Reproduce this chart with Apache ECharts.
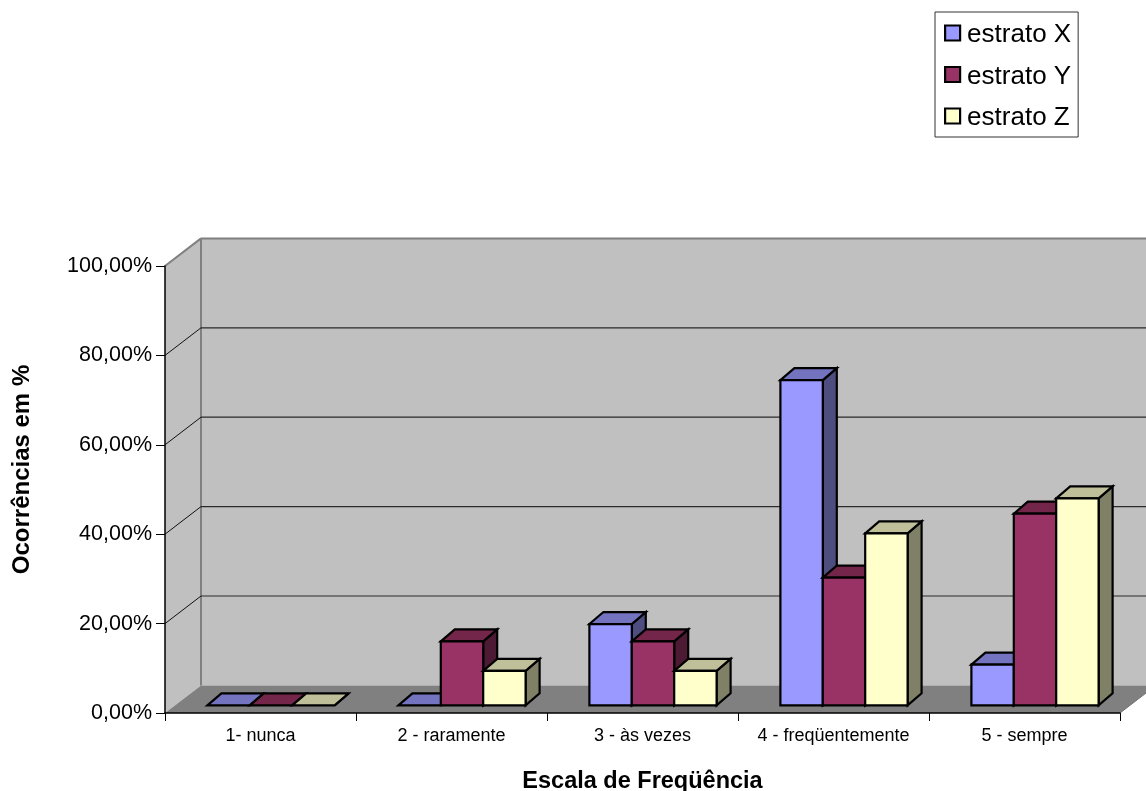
<!DOCTYPE html>
<html>
<head>
<meta charset="utf-8">
<style>html,body{margin:0;padding:0;background:#fff}#chart{width:1146px;height:791px}</style>
<script src="https://cdn.jsdelivr.net/npm/echarts@6/dist/echarts.min.js"></script>
</head>
<body>
<div id="chart"></div>
<script>
const categories = ['1- nunca', '2 - raramente', '3 - às vezes', '4 - freqüentemente', '5 - sempre'];
const estratoX = [0, 0, 18.18, 72.73, 9.09];
const estratoY = [0, 14.29, 14.29, 28.57, 42.86];
const estratoZ = [0, 7.69, 7.69, 38.46, 46.3];
const yTicks = [0, 20, 40, 60, 80, 100];
const seriesNames = ['estrato X', 'estrato Y', 'estrato Z'];
const frontColors = ['#9999FF', '#993366', '#FFFFCC'];
const topColors = ['#7373BF', '#732649', '#BFBF99'];
const sideColors = ['#4D4D80', '#4D1A33', '#808066'];

// Oblique projection of the pseudo-3D box
const WALL_DX = 36, WALL_DY = -27.6;
const BAR_INSET_DX = 10.5, BAR_INSET_DY = -7.7;
const BAR_DX = 14, BAR_DY = -12;
const BAR_FRACTION = 42.4 / 191;

const chart = echarts.init(document.getElementById('chart'), null, { renderer: 'canvas' });

function poly(points, fill, stroke, lineWidth) {
  return {
    type: 'polygon',
    shape: { points },
    style: { fill: fill, stroke: stroke || null, lineWidth: lineWidth || 0, lineJoin: 'miter' }
  };
}
function line(a, b, stroke, lineWidth) {
  return {
    type: 'line',
    shape: { x1: a[0], y1: a[1], x2: b[0], y2: b[1] },
    style: { stroke, lineWidth }
  };
}

// Side wall, back wall and floor
function renderWalls(params, api) {
  const last = categories.length - 1;
  const band = api.size([1, 0])[0];
  const bl = api.coord([0, 0]); bl[0] -= band / 2;
  const tl = api.coord([0, 100]); tl[0] -= band / 2;
  const br = api.coord([last, 0]); br[0] += band / 2;
  const tr = [br[0], tl[1]];
  const back = p => [p[0] + WALL_DX, p[1] + WALL_DY];
  return {
    type: 'group',
    children: [
      poly([tl, back(tl), back(bl), bl], '#C0C0C0'),
      poly([back(tl), back(tr), back(br), back(bl)], '#C0C0C0'),
      poly([bl, back(bl), back(br), br], '#808080'),
      line(tl, back(tl), '#808080', 2),
      line(back(tl), back(tr), '#808080', 2),
      line(back(tl), back(bl), '#808080', 2),
      line(br, back(br), '#707070', 1)
    ]
  };
}

// Gridlines folding from the side wall onto the back wall
function renderGrid(params, api) {
  const value = api.value(0);
  if (value === 0 || value === 100) return { type: 'group', children: [] };
  const band = api.size([1, 0])[0];
  const a = api.coord([0, value]); a[0] -= band / 2;
  const r = api.coord([categories.length - 1, value]); r[0] += band / 2;
  const b = [a[0] + WALL_DX, a[1] + WALL_DY];
  const c = [r[0] + WALL_DX, r[1] + WALL_DY];
  return {
    type: 'group',
    children: [line(a, b, '#111', 1), line(b, c, '#2a2a2a', 1.2)]
  };
}

// Three visible faces of a column
function renderColumn(params, api) {
  const s = params.seriesIndex - 2;
  const cat = api.value(0);
  const val = api.value(1);
  const band = api.size([1, 0])[0];
  const w = band * BAR_FRACTION;
  const c = api.coord([cat, val]);
  const z = api.coord([cat, 0]);
  const x0 = c[0] + BAR_INSET_DX + (s - 1.5) * w;
  const x1 = x0 + w;
  const yT = c[1] + BAR_INSET_DY;
  const yB = z[1] + BAR_INSET_DY;
  const border = '#000';
  const edge = 2.2;
  const children = [
    poly([[x1, yT], [x1 + BAR_DX, yT + BAR_DY], [x1 + BAR_DX, yB + BAR_DY], [x1, yB]], sideColors[s], border, edge),
    poly([[x0, yT], [x0 + BAR_DX, yT + BAR_DY], [x1 + BAR_DX, yT + BAR_DY], [x1, yT]], topColors[s], border, edge)
  ];
  if (val > 0) {
    children.push(poly([[x0, yT], [x1, yT], [x1, yB], [x0, yB]], frontColors[s], border, edge));
  }
  return { type: 'group', children };
}

function columnSeries(name, values, i) {
  return {
    name,
    type: 'custom',
    coordinateSystem: 'cartesian2d',
    renderItem: renderColumn,
    encode: { x: 0, y: 1 },
    itemStyle: { color: frontColors[i] },
    z: 3,
    silent: true,
    data: values.map((v, k) => [k, v])
  };
}

const textColor = '#000';
chart.setOption({
  animation: false,
  backgroundColor: '#fff',
  textStyle: { fontFamily: 'Liberation Sans' },
  grid: { left: 165, right: 26, top: 266, height: 447, containLabel: false, outerBoundsMode: 'none' },
  legend: {
    data: seriesNames,
    orient: 'vertical',
    left: 935,
    top: 12,
    padding: [10, 7, 6, 9],
    itemGap: 15.5,
    itemWidth: 15,
    itemHeight: 15,
    icon: 'rect',
    borderColor: '#333',
    borderWidth: 1,
    itemStyle: { borderColor: '#000', borderWidth: 2.2 },
    formatter: '{t|{name}}',
    textStyle: {
      rich: {
        t: { fontFamily: 'Liberation Sans', fontSize: 26, color: textColor, padding: [4, 0, 0, 2] }
      }
    }
  },
  xAxis: {
    type: 'category',
    data: categories,
    z: 5,
    axisLine: { lineStyle: { color: '#000', width: 1.5 } },
    axisTick: { show: true, length: 8, interval: 0, lineStyle: { color: '#000', width: 1 } },
    axisLabel: { color: textColor, fontSize: 18, margin: 14, interval: 0, hideOverlap: false },
    splitLine: { show: false },
    name: 'Escala de Freqüência',
    nameLocation: 'middle',
    nameGap: 57,
    nameTextStyle: { fontFamily: 'Liberation Sans', fontSize: 23.5, fontWeight: 'bold', color: textColor }
  },
  yAxis: {
    type: 'value',
    min: 0,
    max: 100,
    interval: 20,
    z: 5,
    axisLine: { show: true, lineStyle: { color: '#000', width: 1.5 } },
    axisTick: { show: true, length: 9, lineStyle: { color: '#000', width: 1 } },
    axisLabel: {
      color: textColor,
      fontSize: 21.5,
      margin: 13,
      formatter: v => v.toFixed(2).replace('.', ',') + '%'
    },
    splitLine: { show: false }
  },
  graphic: [{
    type: 'text',
    x: 22,
    y: 469.5,
    rotation: Math.PI / 2,
    style: {
      text: 'Ocorrências em %',
      fontFamily: 'Liberation Sans',
      fontSize: 24,
      fontWeight: 'bold',
      fill: textColor,
      align: 'center',
      verticalAlign: 'middle'
    }
  }],
  series: [
    {
      type: 'custom',
      coordinateSystem: 'cartesian2d',
      renderItem: renderWalls,
      encode: { x: 0, y: 1 },
      z: 1,
      silent: true,
      data: [[0, 0]]
    },
    {
      type: 'custom',
      coordinateSystem: 'cartesian2d',
      renderItem: renderGrid,
      encode: { y: 0 },
      z: 2,
      silent: true,
      data: yTicks.map(t => [t])
    },
    columnSeries(seriesNames[0], estratoX, 0),
    columnSeries(seriesNames[1], estratoY, 1),
    columnSeries(seriesNames[2], estratoZ, 2)
  ]
});
</script>
</body>
</html>
